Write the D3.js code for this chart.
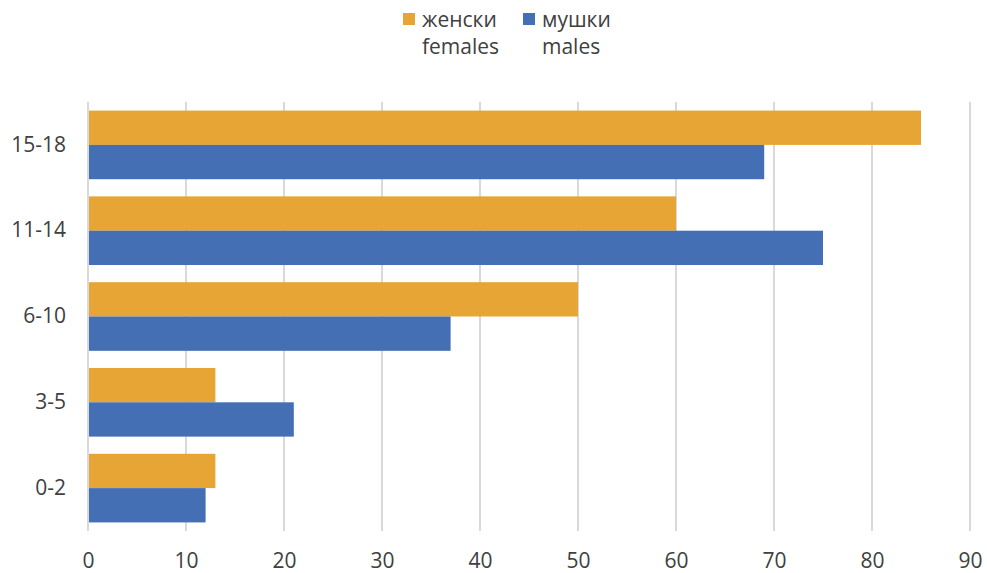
<!DOCTYPE html>
<html>
<head>
<meta charset="utf-8">
<script src="https://cdn.jsdelivr.net/npm/d3@7"></script>
<style>
  body { margin: 0; background: #fff; }
  text { font-family: "Open Sans", "Noto Sans", sans-serif; fill: #404040; }
</style>
</head>
<body>
<div id="chart"></div>
<script>
const categories = ['15-18', '11-14', '6-10', '3-5', '0-2'];
const females = [85, 60, 50, 13, 13];
const males = [69, 75, 37, 21, 12];
const xTicks = [0, 10, 20, 30, 40, 50, 60, 70, 80, 90];
const seriesNames = [['женски', 'females'], ['мушки', 'males']];
const seriesKeys = ['females', 'males'];
const colors = ['#E6A535', '#456FB5'];

const width = 987;
const height = 573;
const margin = { top: 102, right: 17, bottom: 42, left: 88 };

const svg = d3.select('#chart')
  .append('svg')
  .attr('width', width)
  .attr('height', height);

const x = d3.scaleLinear()
  .domain([0, 90])
  .range([margin.left, width - margin.right]);

const y = d3.scaleBand()
  .domain(categories)
  .range([margin.top, height - margin.bottom])
  .paddingInner(0.2)
  .paddingOuter(0.1);

const ySub = d3.scaleBand()
  .domain(seriesKeys)
  .range([0, y.bandwidth()]);

// gridlines
svg.append('g')
  .selectAll('line')
  .data(xTicks)
  .enter()
  .append('line')
  .attr('x1', (d) => x(d))
  .attr('x2', (d) => x(d))
  .attr('y1', margin.top)
  .attr('y2', height - margin.bottom)
  .attr('stroke', '#d9d9d9')
  .attr('stroke-width', 2);

const rows = categories.map((c, i) => ({ cat: c, females: females[i], males: males[i] }));

seriesKeys.forEach((key, k) => {
  svg.append('g')
    .selectAll('rect')
    .data(rows)
    .enter()
    .append('rect')
    .attr('x', x(0) + 1)
    .attr('y', (d) => y(d.cat) + ySub(key))
    .attr('width', (d) => x(d[key]) - x(0) - 1)
    .attr('height', ySub.bandwidth())
    .attr('fill', colors[k]);
});

// x axis labels
const xAxis = svg.append('g')
  .attr('transform', `translate(0,${height - margin.bottom})`)
  .call(d3.axisBottom(x).tickValues(xTicks).tickSize(0).tickPadding(22));
xAxis.select('.domain').remove();
xAxis.selectAll('text')
  .attr('font-size', 21)
  .style('font-family', '"Open Sans", sans-serif')
  .attr('fill', '#404040');

// y axis labels
const yAxis = svg.append('g')
  .attr('transform', `translate(${margin.left},0)`)
  .call(d3.axisLeft(y).tickSize(0).tickPadding(22));
yAxis.select('.domain').remove();
yAxis.selectAll('text')
  .attr('font-size', 21)
  .style('font-family', '"Open Sans", sans-serif')
  .attr('fill', '#404040');

// legend
const legendX = [403, 523];
const legend = svg.append('g');
seriesNames.forEach((names, k) => {
  const g = legend.append('g').attr('transform', `translate(${legendX[k]},0)`);
  g.append('rect')
    .attr('x', 0)
    .attr('y', 13)
    .attr('width', 12)
    .attr('height', 12)
    .attr('fill', colors[k]);
  g.append('text')
    .attr('x', 19)
    .attr('y', 27)
    .attr('font-size', 21)
    .text(names[0]);
  g.append('text')
    .attr('x', 19)
    .attr('y', 54)
    .attr('font-size', 21)
    .text(names[1]);
});
</script>
</body>
</html>
